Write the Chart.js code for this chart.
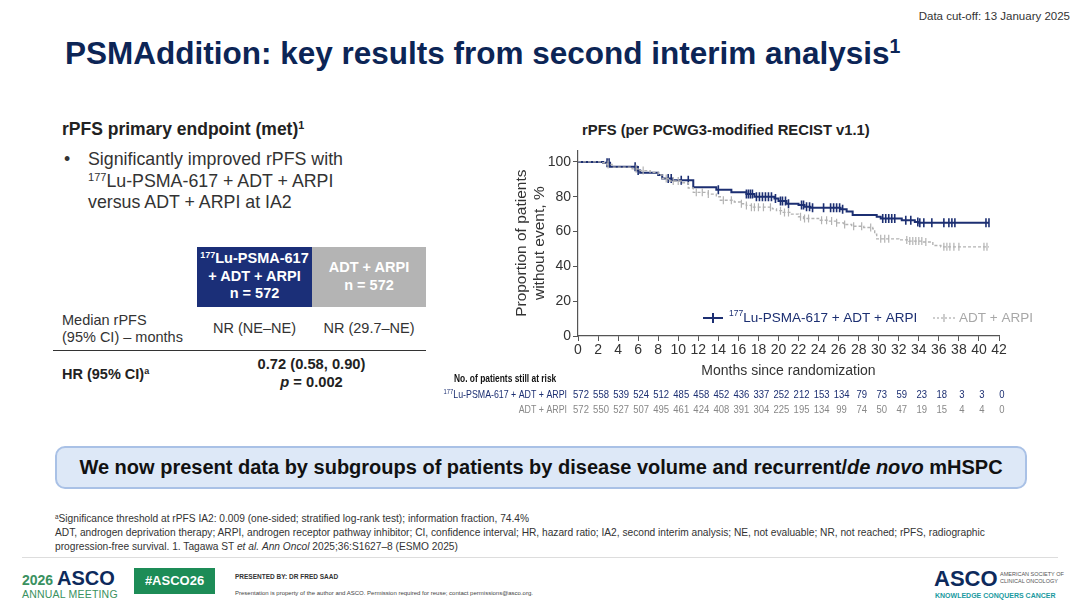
<!DOCTYPE html>
<html>
<head>
<meta charset="utf-8">
<script src="https://cdn.jsdelivr.net/npm/chart.js@4"></script>
<style>
  body { margin: 0; background: #fff; font-family: "Liberation Sans", Arial, sans-serif; color: #333; }
  #slide { position: relative; width: 1080px; height: 608px; overflow: hidden; }
  .abs { position: absolute; white-space: nowrap; }
  sup { font-size: 62%; line-height: 0; vertical-align: 0.55em; }
  #chartBox { position: absolute; left: 420px; top: 140px; width: 640px; height: 290px; }
</style>
</head>
<body>
<div id="slide">
  <div class="abs" style="right:10px; top:10px; font-size:11.5px; color:#333;">Data cut-off: 13 January 2025</div>
  <div class="abs" style="left:65px; top:35px; font-size:31.5px; font-weight:bold; color:#0c2556;">PSMAddition: key results from second interim analysis<sup>1</sup></div>

  <div class="abs" style="left:62px; top:119px; font-size:17.5px; font-weight:bold; color:#222;">rPFS primary endpoint (met)<sup>1</sup></div>
  <div class="abs" style="left:64px; top:149px; font-size:17.8px; color:#333;">•</div>
  <div class="abs" style="left:88px; top:149px; font-size:17.8px; line-height:21.5px; color:#333;">Significantly improved rPFS with<br><sup>177</sup>Lu-PSMA-617 + ADT + ARPI<br>versus ADT + ARPI at IA2</div>

  <div class="abs" style="left:197px; top:247px; width:115px; height:60px; background:#1b2f78; color:#fff; font-weight:bold; font-size:14.5px; line-height:17.5px; text-align:center; padding-top:3px; box-sizing:border-box;"><sup>177</sup>Lu-PSMA-617<br>+ ADT + ARPI<br>n = 572</div>
  <div class="abs" style="left:312px; top:247px; width:114px; height:60px; background:#b4b4b4; color:#fff; font-weight:bold; font-size:14.5px; line-height:17.5px; text-align:center; padding-top:12px; box-sizing:border-box;">ADT + ARPI<br>n = 572</div>
  <div class="abs" style="left:62px; top:312px; font-size:14.5px; line-height:17px; color:#333;">Median rPFS<br>(95% CI) – months</div>
  <div class="abs" style="left:197px; top:320px; width:115px; text-align:center; font-size:14.5px; color:#333;">NR (NE–NE)</div>
  <div class="abs" style="left:312px; top:320px; width:114px; text-align:center; font-size:14.5px; color:#333;">NR (29.7–NE)</div>
  <div class="abs" style="left:53px; top:350px; width:373px; height:0; border-top:1.5px solid #333;"></div>
  <div class="abs" style="left:62px; top:366px; font-size:14.5px; font-weight:bold; color:#222;">HR (95% CI)<sup>a</sup></div>
  <div class="abs" style="left:197px; top:356px; width:229px; text-align:center; font-size:14.7px; line-height:17.5px; font-weight:bold; color:#222;">0.72 (0.58, 0.90)<br><i>p</i> = 0.002</div>

  <div class="abs" style="left:582px; top:122px; font-size:14.8px; font-weight:bold; color:#222;">rPFS (per PCWG3-modified RECIST v1.1)</div>
  <div id="chartBox"><canvas id="km"></canvas></div>

  <div class="abs" style="left:55px; top:446px; width:972px; height:43px; box-sizing:border-box; border:2px solid #a9c1e6; border-radius:10px; background:#dde8f7; text-align:center; line-height:39px; font-size:20px; font-weight:bold; color:#111;">We now present data by subgroups of patients by disease volume and recurrent/<i>de novo</i> mHSPC</div>

  <div class="abs" style="left:55px; top:512px; font-size:10.2px; line-height:14px; color:#333;"><sup>a</sup>Significance threshold at rPFS IA2: 0.009 (one-sided; stratified log-rank test); information fraction, 74.4%<br>ADT, androgen deprivation therapy; ARPI, androgen receptor pathway inhibitor; CI, confidence interval; HR, hazard ratio; IA2, second interim analysis; NE, not evaluable; NR, not reached; rPFS, radiographic<br>progression-free survival. 1. Tagawa ST <i>et al.</i> <i>Ann Oncol</i> 2025;36:S1627–8 (ESMO 2025)</div>
  <div class="abs" style="left:22px; top:557px; width:1036px; height:0; border-top:1px solid #ddd;"></div>

  <div class="abs" style="left:22px; top:567px; font-size:14px; font-weight:bold; color:#3a9160;">2026 <span style="color:#0d2a5c; font-size:20px;">ASCO</span></div>
  <div class="abs" style="left:22px; top:588px; font-size:10.5px; color:#3a9160; letter-spacing:0.2px;">ANNUAL MEETING</div>
  <div class="abs" style="left:134px; top:568px; width:81px; height:26px; background:#1d8c57; color:#fff; font-weight:bold; font-size:13px; line-height:26px; text-align:center;">#ASCO26</div>
  <div class="abs" style="left:235px; top:573px; font-size:6.5px; font-weight:bold; color:#333;">PRESENTED BY: DR FRED SAAD</div>
  <div class="abs" style="left:235px; top:590px; font-size:6px; color:#444;">Presentation is property of the author and ASCO. Permission required for reuse; contact permissions@asco.org.</div>

  <div class="abs" style="left:934px; top:566px; font-size:22px; font-weight:bold; color:#0d2a5c;">ASCO</div>
  <div class="abs" style="left:1000px; top:571px; font-size:5.5px; line-height:7px; color:#555;">AMERICAN SOCIETY OF<br>CLINICAL ONCOLOGY</div>
  <div class="abs" style="left:935px; top:592px; font-size:7px; font-weight:bold; color:#1a9aa0;">KNOWLEDGE CONQUERS CANCER</div>
</div>

<script>
// KM step data (months, % without event)
const luMonths = [0, 2.5, 3.2, 5.9, 6.2, 8.0, 8.4, 9.4, 11.5, 13.8, 15.3, 16.8, 17.6, 19.6, 20.0, 20.8, 22.0, 22.6, 23.2, 26.2, 26.8, 27.4, 29.8, 30.2, 32.3, 33.6, 34.0, 41.0];
const luSurv   = [100, 99.5, 97.2, 95, 93.8, 92.5, 90.5, 89.5, 85.5, 84, 82.5, 81.5, 80, 79, 77.5, 76, 75.3, 74.3, 73.7, 72.8, 71.5, 69.5, 68.5, 67.5, 66.5, 65.5, 65, 65];
const adtMonths = [0, 2.3, 2.9, 3.4, 5.4, 6.0, 7.2, 8.0, 8.4, 9.0, 10.4, 11.0, 11.5, 13.0, 13.8, 14.2, 15.6, 16.2, 16.8, 17.3, 19.4, 19.8, 20.4, 21.3, 22.0, 22.5, 24.0, 25.0, 25.8, 26.5, 27.3, 28.5, 29.4, 29.6, 29.8, 32.0, 33.0, 34.4, 35.4, 36.2, 41.0];
const adtSurv   = [100, 99.5, 98.5, 97, 96, 95, 94, 92.5, 90.5, 89, 88, 85, 82.5, 81.5, 80, 78, 77, 76, 75, 74, 73, 72, 71, 70, 68.5, 67.5, 66.5, 66, 65, 64, 63, 62.3, 61.5, 58.5, 55.8, 55.2, 54.5, 54, 52, 51.2, 51.2];

// censor times
const luCensor = [2.9, 3.1, 5.7, 6.0, 9.0, 9.3, 10.3, 11.0, 14.0, 16.8, 17.0, 17.2, 17.4, 17.8, 18.1, 18.4, 18.7, 19.0, 19.3, 19.7, 20.2, 20.4, 20.7, 21.0, 22.3, 22.5, 22.8, 23.1, 23.4, 24.5, 25.2, 25.5, 25.8, 26.1, 26.4, 30.4, 30.7, 31.0, 31.3, 31.6, 32.7, 33.2, 33.9, 34.1, 34.5, 35.3, 36.5, 37.0, 37.3, 37.6, 40.7, 41.0];
const adtCensor = [3.0, 5.8, 6.5, 8.8, 9.5, 10.0, 11.8, 12.4, 13.0, 14.5, 15.3, 16.3, 16.8, 17.3, 17.6, 18.0, 18.5, 19.2, 20.2, 20.6, 21.0, 22.2, 22.6, 23.0, 24.3, 24.8, 25.3, 25.8, 26.6, 27.5, 28.3, 29.2, 30.2, 30.6, 31.0, 32.8, 33.1, 33.4, 33.7, 34.0, 34.3, 34.7, 36.5, 36.8, 37.1, 37.5, 38.0, 40.5, 40.8];

// patients at risk at 0,2,...,42 months
const riskMonths = [0, 2, 4, 6, 8, 10, 12, 14, 16, 18, 20, 22, 24, 26, 28, 30, 32, 34, 36, 38, 40, 42];
const luRisk  = [572, 558, 539, 524, 512, 485, 458, 452, 436, 337, 252, 212, 153, 134, 79, 73, 59, 23, 18, 3, 3, 0];
const adtRisk = [572, 550, 527, 507, 495, 461, 424, 408, 391, 304, 225, 195, 134, 99, 74, 50, 47, 19, 15, 4, 4, 0];

const NAVY = "#1c2f72";
const GREY = "#b3b3b3";
const FONT = "'Liberation Sans', Arial, sans-serif";

function stepAt(months, surv, t) {
  let v = surv[0];
  for (let i = 0; i < months.length; i++) { if (months[i] <= t) v = surv[i]; }
  return v;
}
function toPts(xs, ys) { return xs.map((x, i) => ({ x: x, y: ys[i] })); }
function censorPts(c, months, surv) { return c.map(t => ({ x: t, y: stepAt(months, surv, t) })); }

// narrow text, like the condensed face in the slide's at-risk table
function narrowText(ctx, text, x, y, sx) {
  ctx.save();
  ctx.translate(x, y);
  ctx.scale(sx, 1);
  ctx.fillText(text, 0, 0);
  ctx.restore();
}

// risk table + legend drawn against the x scale
const extras = {
  id: "extras",
  afterDraw(chart) {
    const ctx = chart.ctx;
    const xs = chart.scales.x;
    const area = chart.chartArea;
    ctx.save();
    ctx.textBaseline = "middle";

    // legend
    const ly = area.bottom - 18;
    let lx = 283;
    ctx.strokeStyle = NAVY; ctx.lineWidth = 2;
    ctx.beginPath(); ctx.moveTo(lx, ly); ctx.lineTo(lx + 20, ly); ctx.stroke();
    ctx.beginPath(); ctx.moveTo(lx + 10, ly - 5); ctx.lineTo(lx + 10, ly + 5); ctx.stroke();
    ctx.fillStyle = NAVY; ctx.textAlign = "left";
    ctx.font = "8.5px " + FONT; ctx.fillText("177", lx + 26, ly - 4);
    let w = ctx.measureText("177").width;
    ctx.font = "13.5px " + FONT; ctx.fillText("Lu-PSMA-617 + ADT + ARPI", lx + 26 + w, ly);
    lx = 513;
    ctx.strokeStyle = GREY; ctx.lineWidth = 1.3; ctx.setLineDash([2, 2]);
    ctx.beginPath(); ctx.moveTo(lx, ly); ctx.lineTo(lx + 22, ly); ctx.stroke();
    ctx.setLineDash([]);
    ctx.beginPath(); ctx.moveTo(lx + 11, ly - 4); ctx.lineTo(lx + 11, ly + 4); ctx.stroke();
    ctx.fillStyle = "#a8a8a8"; ctx.fillText("ADT + ARPI", lx + 26, ly);

    // at-risk table
    const labelRight = area.left - 11;
    const row1 = 255, row2 = 270;
    ctx.textAlign = "left";
    ctx.fillStyle = "#111"; ctx.font = "bold 10.5px " + FONT;
    narrowText(ctx, "No. of patients still at risk", 34, 239, 0.8);
    ctx.textAlign = "right";
    ctx.font = "10.5px " + FONT;
    ctx.fillStyle = NAVY;
    narrowText(ctx, "Lu-PSMA-617 + ADT + ARPI", labelRight, row1, 0.84);
    w = ctx.measureText("Lu-PSMA-617 + ADT + ARPI").width * 0.84;
    ctx.font = "7px " + FONT;
    narrowText(ctx, "177", labelRight - w, row1 - 3, 0.84);
    ctx.font = "10.5px " + FONT; ctx.fillStyle = "#888";
    narrowText(ctx, "ADT + ARPI", labelRight, row2, 0.84);
    ctx.textAlign = "center";
    ctx.font = "10.8px " + FONT;
    riskMonths.forEach((m, i) => {
      const x = xs.getPixelForValue(m) + 3;
      ctx.fillStyle = NAVY; narrowText(ctx, String(luRisk[i]), x, row1, 0.88);
      ctx.fillStyle = "#888"; narrowText(ctx, String(adtRisk[i]), x, row2, 0.88);
    });
    ctx.restore();
  }
};

new Chart(document.getElementById("km"), {
  type: "line",
  data: {
    datasets: [
      { label: "ADT + ARPI", data: toPts(adtMonths, adtSurv), stepped: true, borderColor: GREY, borderWidth: 1.4, borderDash: [3, 2], pointRadius: 0, fill: false },
      { label: "ADT + ARPI censored", data: censorPts(adtCensor, adtMonths, adtSurv), showLine: false, pointStyle: "line", rotation: 90, pointRadius: 4, borderColor: GREY, borderWidth: 1.2 },
      { label: "177Lu-PSMA-617 + ADT + ARPI", data: toPts(luMonths, luSurv), stepped: true, borderColor: NAVY, borderWidth: 2, pointRadius: 0, fill: false },
      { label: "177Lu censored", data: censorPts(luCensor, luMonths, luSurv), showLine: false, pointStyle: "line", rotation: 90, pointRadius: 4.5, borderColor: NAVY, borderWidth: 1.6 }
    ]
  },
  options: {
    responsive: true,
    maintainAspectRatio: false,
    animation: false,
    layout: { padding: { left: 88, right: 61, top: 7, bottom: 50 } },
    plugins: { legend: { display: false }, tooltip: { enabled: false } },
    scales: {
      x: {
        type: "linear", min: 0, max: 42,
        afterFit: s => { s.height = 44; },
        border: { color: "#555", width: 1.2 },
        grid: { display: true, drawOnChartArea: false, drawTicks: true, tickLength: 5, color: "#555" },
        ticks: { stepSize: 2, color: "#333", font: { family: FONT, size: 14 }, padding: 1, maxRotation: 0, autoSkip: false },
        title: { display: true, text: "Months since randomization", color: "#333", font: { family: FONT, size: 14 }, padding: { top: 2, bottom: 0 } }
      },
      y: {
        min: 0, max: 106.6,
        afterFit: s => { s.width = 70; },
        border: { color: "#555", width: 1.2 },
        grid: { display: true, drawOnChartArea: false, drawTicks: true, tickLength: 5, color: "#555" },
        ticks: { stepSize: 20, includeBounds: false, color: "#333", font: { family: FONT, size: 14 }, padding: 2 },
        title: { display: true, text: ["Proportion of patients", "without event, %"], color: "#333", font: { family: FONT, size: 15.5, lineHeight: 1.2 }, padding: { top: 4, bottom: 0 } }
      }
    }
  },
  plugins: [extras]
});
</script>
</body>
</html>
